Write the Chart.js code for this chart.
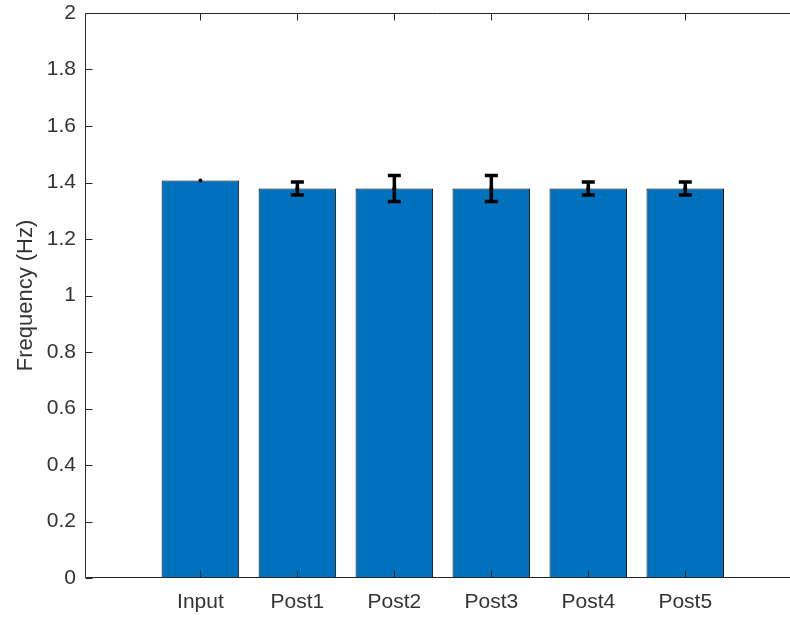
<!DOCTYPE html>
<html>
<head>
<meta charset="utf-8">
<script src="https://cdn.jsdelivr.net/npm/chart.js@4"></script>
<style>
  body { margin: 0; background: #fff; overflow: hidden; }
  #wrap { width: 790px; height: 617px; }
</style>
</head>
<body>
<div id="wrap"><canvas id="freqChart"></canvas></div>
<script>
// mean frequency per stage and its spread
const categories = ["Input", "Post1", "Post2", "Post3", "Post4", "Post5"];
const freqMean = [1.407, 1.379, 1.379, 1.379, 1.379, 1.379];
const freqErr = [0, 0.023, 0.046, 0.046, 0.023, 0.023];
const yTicks = [0, 0.2, 0.4, 0.6, 0.8, 1, 1.2, 1.4, 1.6, 1.8, 2];

const axisColor = "#262626";
const textColor = "#333333";
const fontFamily = "'Liberation Sans', Arial, Helvetica, sans-serif";

// matlab-ish box: inward ticks, top/left/bottom lines, error bars on top
const axesAndErrors = {
  id: "axesAndErrors",
  afterDatasetsDraw(chart) {
    const ctx = chart.ctx;
    const area = chart.chartArea;
    const x = chart.scales.x, y = chart.scales.y;
    ctx.save();

    // error bars
    ctx.strokeStyle = "#000";
    ctx.fillStyle = "#000";
    ctx.lineWidth = 3.5;
    categories.forEach((c, i) => {
      const px = x.getPixelForValue(i + 1);
      const yHi = y.getPixelForValue(freqMean[i] + freqErr[i]);
      const yLo = y.getPixelForValue(freqMean[i] - freqErr[i]);
      if (freqErr[i] > 0) {
        ctx.beginPath();
        ctx.moveTo(px, yHi);
        ctx.lineTo(px, yLo);
        ctx.moveTo(px - 6.5, yHi);
        ctx.lineTo(px + 6.5, yHi);
        ctx.moveTo(px - 6.5, yLo);
        ctx.lineTo(px + 6.5, yLo);
        ctx.stroke();
      }
      ctx.beginPath();
      ctx.arc(px, y.getPixelForValue(freqMean[i]), 2, 0, Math.PI * 2);
      ctx.fill();
    });

    // axis lines
    const l = Math.round(area.left) + 0.5;
    const t = Math.round(area.top) + 0.5;
    const b = Math.round(area.bottom) - 0.5;
    ctx.strokeStyle = axisColor;
    ctx.lineWidth = 1;
    ctx.beginPath();
    ctx.moveTo(area.right, t);
    ctx.lineTo(l, t);
    ctx.lineTo(l, b);
    ctx.lineTo(area.right, b);

    // ticks point into the plot
    yTicks.forEach(v => {
      const py = Math.round(y.getPixelForValue(v)) + 0.5;
      ctx.moveTo(l, py);
      ctx.lineTo(l + 7, py);
    });
    categories.forEach((c, i) => {
      const px = Math.round(x.getPixelForValue(i + 1)) + 0.5;
      ctx.moveTo(px, b);
      ctx.lineTo(px, b - 7);
      ctx.moveTo(px, t);
      ctx.lineTo(px, t + 7);
    });
    ctx.stroke();
    ctx.restore();
  }
};

const ctx = document.getElementById("freqChart").getContext("2d");

new Chart(ctx, {
  type: "bar",
  data: {
    datasets: [
      {
        data: freqMean.map((v, i) => ({ x: i + 1, y: v })),
        backgroundColor: "#0072BD",
        borderColor: "#000",
        borderWidth: 1,
        borderSkipped: false,
        categoryPercentage: 1.0,
        barPercentage: 0.8,
      },
    ],
  },
  options: {
    responsive: true,
    maintainAspectRatio: false,
    animation: false,
    layout: { padding: { left: 0, right: 0, top: 13, bottom: 0 } },
    plugins: {
      legend: { display: false },
      tooltip: { enabled: false },
    },
    scales: {
      x: {
        type: "linear",
        offset: false,
        min: -0.19,
        max: 7.08,
        grid: { display: false, drawTicks: false },
        border: { display: false },
        afterBuildTicks: (scale) => {
          scale.ticks = categories.map((c, i) => ({ value: i + 1 }));
        },
        afterFit: (scale) => {
          scale.height = 39;
          scale.paddingLeft = 0;
          scale.paddingRight = 0;
        },
        ticks: {
          autoSkip: false,
          maxRotation: 0,
          padding: 12,
          color: textColor,
          font: { family: fontFamily, size: 21 },
          callback: (v) => categories[v - 1] || "",
        },
      },
      y: {
        min: 0,
        max: 2,
        grid: { display: false, drawTicks: false },
        border: { display: false },
        afterBuildTicks: (scale) => {
          scale.ticks = yTicks.map(v => ({ value: v }));
        },
        afterFit: (scale) => {
          scale.width = 85;
          scale.paddingTop = 0;
          scale.paddingBottom = 0;
        },
        ticks: {
          padding: 9,
          color: textColor,
          font: { family: fontFamily, size: 21 },
          callback: (v) => String(+v.toFixed(1)),
        },
        title: {
          display: true,
          text: "Frequency (Hz)",
          color: textColor,
          font: { family: fontFamily, size: 22 },
          padding: { top: 13, bottom: 0 },
        },
      },
    },
  },
  plugins: [axesAndErrors],
});
</script>
</body>
</html>
